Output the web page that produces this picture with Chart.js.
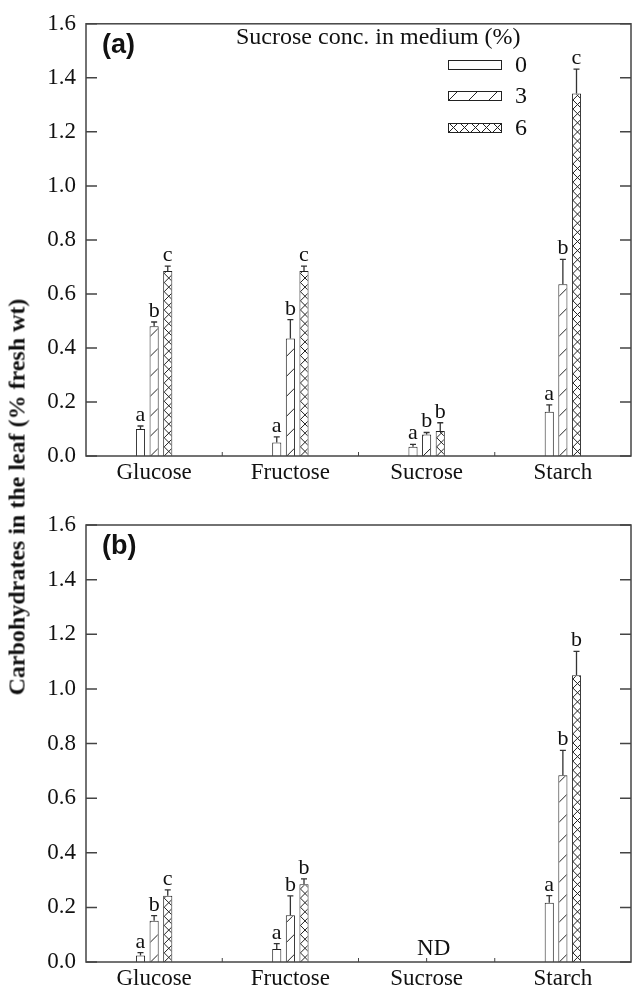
<!DOCTYPE html>
<html>
<head>
<meta charset="utf-8">
<script src="https://cdn.jsdelivr.net/npm/chart.js@4.4.1/dist/chart.umd.min.js"></script>
<style>
  html, body { margin: 0; padding: 0; background: #fff; }
  #wrap { position: relative; width: 634px; height: 988px; }
  canvas { position: absolute; left: 0; }
  #chartA { top: 0; }
  #chartB { top: 494px; }
  #ytitle {
    position: absolute; left: 17px; top: 497px;
    transform: translate(-50%, -50%) rotate(-90deg);
    font: bold 24px "Liberation Serif", "Times New Roman", serif;
    white-space: nowrap; color: #111;
  }
</style>
</head>
<body>
<div id="wrap">
  <canvas id="chartA" width="634" height="494"></canvas>
  <canvas id="chartB" width="634" height="494"></canvas>
  <div id="ytitle">Carbohydrates in the leaf (% fresh wt)</div>
</div>
<script>
const categories = ["Glucose", "Fructose", "Sucrose", "Starch"];
const concLabels = ["0", "3", "6"];
const legendTitle = "Sucrose conc. in medium (%)";
const yMax = 1.6;
const yStep = 0.2;

// panel (a)
const a0 = [0.10, 0.05, 0.034, 0.164];
const a3 = [0.48, 0.435, 0.08, 0.636];
const a6 = [0.685, 0.685, 0.093, 1.342];
const aErr0 = [0.011, 0.021, 0.009, 0.025];
const aErr3 = [0.016, 0.07, 0.007, 0.092];
const aErr6 = [0.018, 0.018, 0.03, 0.09];
const aLet0 = ["a", "a", "a", "a"];
const aLet3 = ["b", "b", "b", "b"];
const aLet6 = ["c", "c", "b", "c"];

// panel (b) - sucrose not detected
const b0 = [0.024, 0.048, null, 0.217];
const b3 = [0.151, 0.171, null, 0.684];
const b6 = [0.243, 0.285, null, 1.05];
const bErr0 = [0.01, 0.019, null, 0.026];
const bErr3 = [0.019, 0.071, null, 0.091];
const bErr6 = [0.021, 0.019, null, 0.087];
const bLet0 = ["a", "a", "", "a"];
const bLet3 = ["b", "b", "", "b"];
const bLet6 = ["c", "b", "", "b"];

const INK = "#222";
const AXIS = "#444";
const SERIF = '"Liberation Serif", "Times New Roman", serif';

Chart.defaults.font.family = SERIF;
Chart.defaults.color = "#111";

// diagonal / cross hatching inside a rect, anchored at its bottom-left corner
function hatch(ctx, x0, y0, w, h, kind, period) {
  ctx.save();
  ctx.beginPath();
  ctx.rect(x0, y0, w, h);
  ctx.clip();
  ctx.strokeStyle = INK;
  ctx.lineWidth = 1;
  const base = y0 + h;
  const L = h + w + 4;
  const n = Math.ceil(L / period) + 2;
  ctx.beginPath();
  for (let k = -n; k <= n; k++) {
    const sx = x0 + k * period;
    ctx.moveTo(sx, base);
    ctx.lineTo(sx + L, base - L);
    if (kind === "cross") {
      ctx.moveTo(sx, base);
      ctx.lineTo(sx - L, base - L);
    }
  }
  ctx.stroke();
  ctx.restore();
}

const decorPlugin = {
  id: "decor",
  beforeDatasetsDraw(chart) {
    const { ctx, chartArea: a, scales: { x } } = chart;
    ctx.save();
    ctx.strokeStyle = AXIS;
    ctx.lineWidth = 1;
    ctx.beginPath();
    for (let i = 0; i < categories.length; i++) {
      const cx = x.getPixelForValue(i);
      ctx.moveTo(cx, a.bottom);
      ctx.lineTo(cx, a.bottom - 4);
      if (i > 0) {
        const bx = (cx + x.getPixelForValue(i - 1)) / 2;
        ctx.moveTo(bx, a.bottom);
        ctx.lineTo(bx, a.bottom - 4);
      }
    }
    ctx.stroke();
    ctx.restore();
  },
  afterDatasetsDraw(chart) {
    const { ctx, scales: { y } } = chart;
    chart.data.datasets.forEach((ds, di) => {
      const meta = chart.getDatasetMeta(di);
      meta.data.forEach((bar, i) => {
        const v = ds.data[i];
        if (v == null) return;
        const p = bar.getProps(["x", "y", "base", "width"], true);
        const left = p.x - p.width / 2;
        if (ds.fillKind) {
          hatch(ctx, left + 1, p.y + 1, p.width - 2, p.base - p.y - 1,
            ds.fillKind, ds.fillKind === "cross" ? p.width : 20);
        }
        const yt = y.getPixelForValue(v + ds.errors[i]);
        ctx.save();
        ctx.strokeStyle = "#333";
        ctx.lineWidth = 1.3;
        ctx.beginPath();
        ctx.moveTo(p.x, p.y);
        ctx.lineTo(p.x, yt);
        ctx.moveTo(p.x - 3, yt);
        ctx.lineTo(p.x + 3, yt);
        ctx.stroke();
        ctx.fillStyle = "#111";
        ctx.font = "22px " + SERIF;
        ctx.textAlign = "center";
        ctx.textBaseline = "alphabetic";
        ctx.fillText(ds.letters[i], p.x, yt - 5);
        ctx.restore();
      });
    });
  },
  afterDraw(chart, args, opts) {
    const { ctx, chartArea: a, scales: { x, y } } = chart;
    ctx.save();
    ctx.strokeStyle = AXIS;
    ctx.lineWidth = 1.5;
    ctx.strokeRect(a.left, a.top, a.right - a.left, a.bottom - a.top);
    ctx.beginPath();
    y.ticks.forEach(t => {
      const py = y.getPixelForValue(t.value);
      ctx.moveTo(a.left, py);
      ctx.lineTo(a.left + 11, py);
      ctx.moveTo(a.right - 11, py);
      ctx.lineTo(a.right, py);
    });
    ctx.stroke();

    ctx.fillStyle = "#111";
    ctx.font = "bold 27px 'Liberation Sans', Arial, sans-serif";
    ctx.textAlign = "left";
    ctx.textBaseline = "alphabetic";
    ctx.fillText(opts.label, a.left + 16, a.top + 29);

    if (opts.legend) {
      ctx.font = "24px " + SERIF;
      ctx.fillText(legendTitle, 236, 44);
      const kinds = [null, "diag", "cross"];
      const tops = [60, 91, 123];
      concLabels.forEach((lab, k) => {
        const bx = 448, by = tops[k], bw = 54, bh = 10;
        ctx.fillStyle = "#fff";
        ctx.fillRect(bx, by, bw, bh);
        if (kinds[k]) hatch(ctx, bx, by, bw, bh, kinds[k], kinds[k] === "cross" ? 11 : 20);
        ctx.strokeStyle = INK;
        ctx.lineWidth = 1;
        ctx.strokeRect(bx + 0.5, by + 0.5, bw - 1, bh - 1);
        ctx.fillStyle = "#111";
        ctx.textBaseline = "middle";
        ctx.fillText(lab, 515, by + bh / 2 + 1);
        ctx.textBaseline = "alphabetic";
      });
    }
    if (opts.nd !== undefined) {
      ctx.font = "23px " + SERIF;
      ctx.textAlign = "center";
      ctx.fillText("ND", x.getPixelForValue(opts.nd) + 7, a.bottom - 7);
    }
    ctx.restore();
  }
};

function makePanel(id, s0, s3, s6, e0, e3, e6, l0, l3, l6, decor, padTop, xHeight) {
  const common = { borderColor: INK, borderWidth: 1, backgroundColor: "#fff",
    categoryPercentage: 0.3, barPercentage: 0.67 };
  return new Chart(document.getElementById(id), {
    type: "bar",
    data: {
      labels: categories,
      datasets: [
        { ...common, label: concLabels[0], data: s0, errors: e0, letters: l0, fillKind: null },
        { ...common, label: concLabels[1], data: s3, errors: e3, letters: l3, fillKind: "diag" },
        { ...common, label: concLabels[2], data: s6, errors: e6, letters: l6, fillKind: "cross" },
      ],
    },
    options: {
      responsive: false,
      animation: false,
      layout: { padding: { top: padTop, right: 3, bottom: 0, left: 0 } },
      plugins: { legend: { display: false }, tooltip: { enabled: false }, decor },
      scales: {
        x: {
          grid: { display: false, drawTicks: false },
          border: { display: false },
          ticks: { font: { size: 23 }, padding: 3, maxRotation: 0, autoSkip: false },
          afterFit: (s) => { s.height = xHeight; },
        },
        y: {
          min: 0, max: yMax,
          grid: { display: false, drawTicks: false },
          border: { display: false },
          ticks: { stepSize: yStep, font: { size: 23 }, padding: 10,
            callback: (v) => v.toFixed(1) },
          afterFit: (s) => { s.width = 86; },
        },
      },
    },
    plugins: [decorPlugin],
  });
}

makePanel("chartA", a0, a3, a6, aErr0, aErr3, aErr6, aLet0, aLet3, aLet6,
  { label: "(a)", legend: true }, 19, 38);
makePanel("chartB", b0, b3, b6, bErr0, bErr3, bErr6, bLet0, bLet3, bLet6,
  { label: "(b)", legend: false, nd: 2 }, 31, 26);
</script>
</body>
</html>
